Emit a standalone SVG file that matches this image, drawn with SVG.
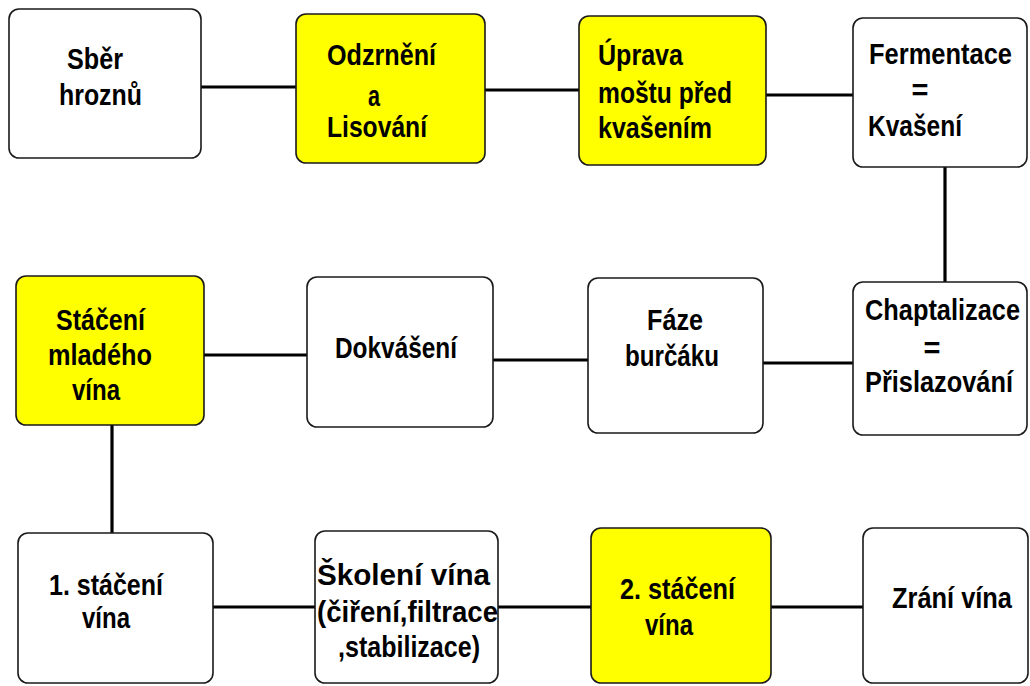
<svg xmlns="http://www.w3.org/2000/svg" width="1030" height="686" viewBox="0 0 1030 686">
<style>
.box{fill:#fff;stroke:#1a1a1a;stroke-width:1.6}
.y{fill:#ffff00}
.c{stroke:#000;stroke-width:3.2;fill:none}
text{font-family:"Liberation Sans",Arial,sans-serif;font-weight:bold;font-size:29px;fill:#000}
</style>
<rect width="1030" height="686" fill="#fff"/>
<g id="connectors">
<line class="c" x1="201" y1="87" x2="296" y2="87"/>
<line class="c" x1="485" y1="90" x2="579" y2="90"/>
<line class="c" x1="766" y1="95" x2="853" y2="95"/>
<line class="c" x1="945" y1="167" x2="945" y2="282"/>
<line class="c" x1="763" y1="363" x2="853" y2="363"/>
<line class="c" x1="493" y1="360" x2="588" y2="360"/>
<line class="c" x1="204" y1="355" x2="307" y2="355"/>
<line class="c" x1="112" y1="425" x2="112" y2="533"/>
<line class="c" x1="213" y1="607" x2="315" y2="607"/>
<line class="c" x1="498" y1="607" x2="591" y2="607"/>
<line class="c" x1="771" y1="607" x2="863" y2="607"/>
</g>
<g id="n1">
<rect class="box" x="9" y="9" width="192" height="149" rx="10"/>
<text x="67" y="69" textLength="56" lengthAdjust="spacingAndGlyphs">Sběr</text>
<text x="59" y="105" textLength="83" lengthAdjust="spacingAndGlyphs">hroznů</text>
</g>
<g id="n2">
<rect class="box y" x="296" y="14" width="189" height="149" rx="10"/>
<text x="327" y="65" textLength="109" lengthAdjust="spacingAndGlyphs">Odzrnění</text>
<text x="368" y="106" textLength="12" lengthAdjust="spacingAndGlyphs">a</text>
<text x="327" y="137" textLength="100" lengthAdjust="spacingAndGlyphs">Lisování</text>
</g>
<g id="n3">
<rect class="box y" x="579" y="16" width="187" height="149" rx="10"/>
<text x="598" y="65" textLength="85" lengthAdjust="spacingAndGlyphs">Úprava</text>
<text x="598" y="103" textLength="134" lengthAdjust="spacingAndGlyphs">moštu před</text>
<text x="598" y="138" textLength="114" lengthAdjust="spacingAndGlyphs">kvašením</text>
</g>
<g id="n4">
<rect class="box" x="853" y="18" width="174" height="149" rx="10"/>
<text x="869" y="64" textLength="143" lengthAdjust="spacingAndGlyphs">Fermentace</text>
<text x="920" y="100" text-anchor="middle">=</text>
<text x="868" y="136" textLength="94" lengthAdjust="spacingAndGlyphs">Kvašení</text>
</g>
<g id="n5">
<rect class="box" x="853" y="282" width="174" height="153" rx="10"/>
<text x="865" y="320" textLength="155" lengthAdjust="spacingAndGlyphs">Chaptalizace</text>
<text x="932" y="358" text-anchor="middle">=</text>
<text x="865" y="392" textLength="148" lengthAdjust="spacingAndGlyphs">Přislazování</text>
</g>
<g id="n6">
<rect class="box" x="588" y="278" width="175" height="155" rx="10"/>
<text x="647" y="330" textLength="56" lengthAdjust="spacingAndGlyphs">Fáze</text>
<text x="625" y="366" textLength="94" lengthAdjust="spacingAndGlyphs">burčáku</text>
</g>
<g id="n7">
<rect class="box" x="307" y="277" width="186" height="150" rx="10"/>
<text x="335" y="358" textLength="122" lengthAdjust="spacingAndGlyphs">Dokvášení</text>
</g>
<g id="n8">
<rect class="box y" x="16" y="276" width="188" height="149" rx="10"/>
<text x="56" y="330" textLength="89" lengthAdjust="spacingAndGlyphs">Stáčení</text>
<text x="48" y="365" textLength="104" lengthAdjust="spacingAndGlyphs">mladého</text>
<text x="72" y="400" textLength="48" lengthAdjust="spacingAndGlyphs">vína</text>
</g>
<g id="n9">
<rect class="box" x="18" y="533" width="195" height="150" rx="10"/>
<text x="49" y="595" textLength="114" lengthAdjust="spacingAndGlyphs">1. stáčení</text>
<text x="82" y="628" textLength="48" lengthAdjust="spacingAndGlyphs">vína</text>
</g>
<g id="n10">
<rect class="box" x="315" y="531" width="183" height="152" rx="10"/>
<text x="317" y="585" textLength="173" lengthAdjust="spacingAndGlyphs">Školení vína</text>
<text x="317" y="622" textLength="181" lengthAdjust="spacingAndGlyphs">(čiření,filtrace</text>
<text x="338" y="657" textLength="142" lengthAdjust="spacingAndGlyphs">,stabilizace)</text>
</g>
<g id="n11">
<rect class="box y" x="591" y="528" width="180" height="155" rx="10"/>
<text x="620" y="599" textLength="115" lengthAdjust="spacingAndGlyphs">2. stáčení</text>
<text x="645" y="635" textLength="48" lengthAdjust="spacingAndGlyphs">vína</text>
</g>
<g id="n12">
<rect class="box" x="863" y="528" width="165" height="155" rx="10"/>
<text x="892" y="608" textLength="120" lengthAdjust="spacingAndGlyphs">Zrání vína</text>
</g>
</svg>
